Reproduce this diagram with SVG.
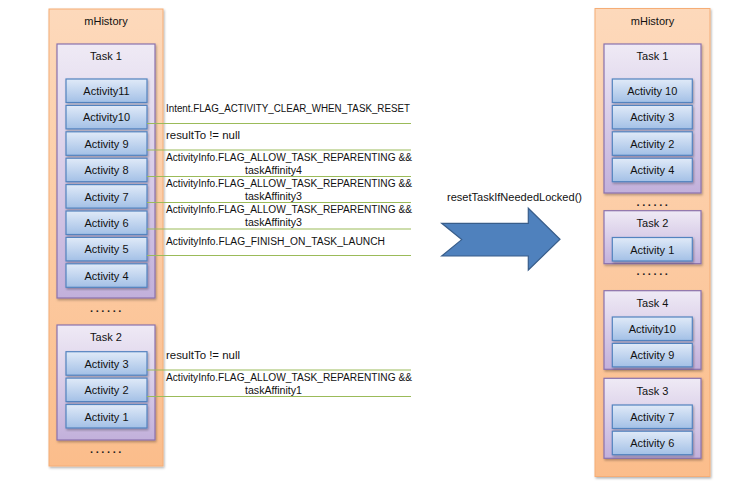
<svg xmlns="http://www.w3.org/2000/svg" width="749" height="483" viewBox="0 0 749 483">
<defs>
<linearGradient id="gH" x1="0" y1="0" x2="0" y2="1"><stop offset="0" stop-color="#fdd9bb"/><stop offset="1" stop-color="#fbbd8b"/></linearGradient>
<linearGradient id="gT" x1="0" y1="0" x2="0" y2="1"><stop offset="0" stop-color="#efeaf5"/><stop offset="1" stop-color="#c2b0db"/></linearGradient>
<linearGradient id="gA" x1="0" y1="0" x2="0" y2="1"><stop offset="0" stop-color="#e0eaf8"/><stop offset="1" stop-color="#a3c0e6"/></linearGradient>
<filter id="sh" x="-10%" y="-10%" width="125%" height="125%"><feDropShadow dx="1" dy="1.5" stdDeviation="1" flood-color="#000" flood-opacity="0.3"/></filter>
</defs>
<style>
.hist{fill:url(#gH);stroke:#f5ad76;stroke-width:1;filter:url(#sh)}
.task{fill:url(#gT);stroke:#8a72ad;stroke-width:1.2;filter:url(#sh)}
.act{fill:url(#gA);stroke:#5383bf;stroke-width:1.2;filter:url(#sh)}
text{font-family:"Liberation Sans",Arial,sans-serif;fill:#111111}
.lbl{font-size:11px;text-anchor:middle}
.cond{font-size:10px}
.dots{font-size:11px;font-weight:bold;text-anchor:middle;letter-spacing:2.6px;fill:#222}
.conn line{stroke:#9bbb59;stroke-width:1}
</style>
<rect width="749" height="483" fill="#ffffff"/>

<!-- Left mHistory -->
<g id="left-history">
<rect class="hist" x="49" y="9" width="114" height="457"/>
<text class="lbl" x="106" y="25">mHistory</text>
<text class="dots" x="107" y="312">......</text>
<text class="dots" x="107" y="453">......</text>
</g>
<g id="left-task1">
<rect class="task" x="57" y="44" width="98" height="254"/>
<text class="lbl" x="106" y="60">Task 1</text>
</g>
<g id="l-act11"><rect class="act" x="66" y="79" width="81" height="23.5"/><text class="lbl" x="106.5" y="95">Activity11</text></g>
<g id="l-act10"><rect class="act" x="66" y="105.4" width="81" height="23.5"/><text class="lbl" x="106.5" y="121.4">Activity10</text></g>
<g id="l-act9"><rect class="act" x="66" y="131.8" width="81" height="23.5"/><text class="lbl" x="106.5" y="147.8">Activity 9</text></g>
<g id="l-act8"><rect class="act" x="66" y="158.2" width="81" height="23.5"/><text class="lbl" x="106.5" y="174.2">Activity 8</text></g>
<g id="l-act7"><rect class="act" x="66" y="184.6" width="81" height="23.5"/><text class="lbl" x="106.5" y="200.6">Activity 7</text></g>
<g id="l-act6"><rect class="act" x="66" y="211" width="81" height="23.5"/><text class="lbl" x="106.5" y="227">Activity 6</text></g>
<g id="l-act5"><rect class="act" x="66" y="237.4" width="81" height="23.5"/><text class="lbl" x="106.5" y="253.4">Activity 5</text></g>
<g id="l-act4"><rect class="act" x="66" y="263.8" width="81" height="23.5"/><text class="lbl" x="106.5" y="279.8">Activity 4</text></g>

<g id="left-task2">
<rect class="task" x="57" y="325" width="98" height="115"/>
<text class="lbl" x="106" y="341">Task 2</text>
</g>
<g id="l2-act3"><rect class="act" x="66" y="351.7" width="81" height="23.5"/><text class="lbl" x="106.5" y="367.7">Activity 3</text></g>
<g id="l2-act2"><rect class="act" x="66" y="378.1" width="81" height="23.5"/><text class="lbl" x="106.5" y="394.1">Activity 2</text></g>
<g id="l2-act1"><rect class="act" x="66" y="404.5" width="81" height="23.5"/><text class="lbl" x="106.5" y="420.5">Activity 1</text></g>

<!-- Connectors -->
<g id="connectors" class="conn">
<line x1="147" y1="123.5" x2="411" y2="123.5"/>
<line x1="147" y1="150" x2="411" y2="150"/>
<line x1="147" y1="176.5" x2="411" y2="176.5"/>
<line x1="147" y1="202.5" x2="411" y2="202.5"/>
<line x1="147" y1="229" x2="411" y2="229"/>
<line x1="147" y1="255.5" x2="411" y2="255.5"/>
<line x1="147" y1="370" x2="411" y2="370"/>
<line x1="147" y1="396.5" x2="411" y2="396.5"/>
</g>

<g id="labels">
<text class="cond" x="166" y="112" textLength="244" lengthAdjust="spacingAndGlyphs">Intent.FLAG_ACTIVITY_CLEAR_WHEN_TASK_RESET</text>
<text class="cond" x="166" y="138.5" textLength="74" lengthAdjust="spacingAndGlyphs">resultTo != null</text>
<text class="cond" x="166" y="161" textLength="246" lengthAdjust="spacingAndGlyphs">ActivityInfo.FLAG_ALLOW_TASK_REPARENTING &amp;&amp;</text>
<text class="cond" x="245" y="174" textLength="57" lengthAdjust="spacingAndGlyphs">taskAffinity4</text>
<text class="cond" x="166" y="187" textLength="246" lengthAdjust="spacingAndGlyphs">ActivityInfo.FLAG_ALLOW_TASK_REPARENTING &amp;&amp;</text>
<text class="cond" x="245" y="200" textLength="57" lengthAdjust="spacingAndGlyphs">taskAffinity3</text>
<text class="cond" x="166" y="213" textLength="246" lengthAdjust="spacingAndGlyphs">ActivityInfo.FLAG_ALLOW_TASK_REPARENTING &amp;&amp;</text>
<text class="cond" x="245" y="226" textLength="57" lengthAdjust="spacingAndGlyphs">taskAffinity3</text>
<text class="cond" x="166" y="245" textLength="219" lengthAdjust="spacingAndGlyphs">ActivityInfo.FLAG_FINISH_ON_TASK_LAUNCH</text>
<text class="cond" x="166" y="358.5" textLength="74" lengthAdjust="spacingAndGlyphs">resultTo != null</text>
<text class="cond" x="166" y="380.5" textLength="246" lengthAdjust="spacingAndGlyphs">ActivityInfo.FLAG_ALLOW_TASK_REPARENTING &amp;&amp;</text>
<text class="cond" x="245" y="393.5" textLength="57" lengthAdjust="spacingAndGlyphs">taskAffinity1</text>
</g>

<!-- Big arrow -->
<g id="arrow">
<path d="M441.7,223.3 L528.3,223.3 L528.3,208.3 L560,239.3 L528.3,270 L528.3,256 L441.7,256 L461.7,239.6 Z" fill="#4f81bd" stroke="#385d8a" stroke-width="1.2"/>
<text class="cond" x="447" y="201" textLength="135" lengthAdjust="spacingAndGlyphs">resetTaskIfNeededLocked()</text>
</g>

<!-- Right mHistory -->
<g id="right-history">
<rect class="hist" x="595" y="8.5" width="115" height="468"/>
<text class="lbl" x="652.5" y="25">mHistory</text>
<text class="dots" x="653.5" y="206">......</text>
<text class="dots" x="653.5" y="275">......</text>
</g>
<g id="right-task1">
<rect class="task" x="604" y="44" width="97" height="149"/>
<text class="lbl" x="652.5" y="60">Task 1</text>
</g>
<g id="r-act10"><rect class="act" x="612.3" y="79" width="80" height="23.5"/><text class="lbl" x="652.3" y="95">Activity 10</text></g>
<g id="r-act3"><rect class="act" x="612.3" y="105.4" width="80" height="23.5"/><text class="lbl" x="652.3" y="121.4">Activity 3</text></g>
<g id="r-act2"><rect class="act" x="612.3" y="131.8" width="80" height="23.5"/><text class="lbl" x="652.3" y="147.8">Activity 2</text></g>
<g id="r-act4"><rect class="act" x="612.3" y="158.2" width="80" height="23.5"/><text class="lbl" x="652.3" y="174.2">Activity 4</text></g>

<g id="right-task2">
<rect class="task" x="604" y="210.7" width="97" height="53"/>
<text class="lbl" x="652.5" y="227">Task 2</text>
</g>
<g id="r2-act1"><rect class="act" x="612.3" y="237.5" width="80" height="23.5"/><text class="lbl" x="652.3" y="253.5">Activity 1</text></g>

<g id="right-task4">
<rect class="task" x="604" y="290.7" width="97" height="78.6"/>
<text class="lbl" x="652.5" y="307">Task 4</text>
</g>
<g id="r4-act10"><rect class="act" x="612.3" y="317" width="80" height="23.5"/><text class="lbl" x="652.3" y="333">Activity10</text></g>
<g id="r4-act9"><rect class="act" x="612.3" y="343.4" width="80" height="23.5"/><text class="lbl" x="652.3" y="359.4">Activity 9</text></g>

<g id="right-task3">
<rect class="task" x="604" y="378.3" width="97" height="80"/>
<text class="lbl" x="652.5" y="395">Task 3</text>
</g>
<g id="r3-act7"><rect class="act" x="612.3" y="405" width="80" height="23.5"/><text class="lbl" x="652.3" y="421">Activity 7</text></g>
<g id="r3-act6"><rect class="act" x="612.3" y="431.2" width="80" height="23.5"/><text class="lbl" x="652.3" y="447.2">Activity 6</text></g>
</svg>
